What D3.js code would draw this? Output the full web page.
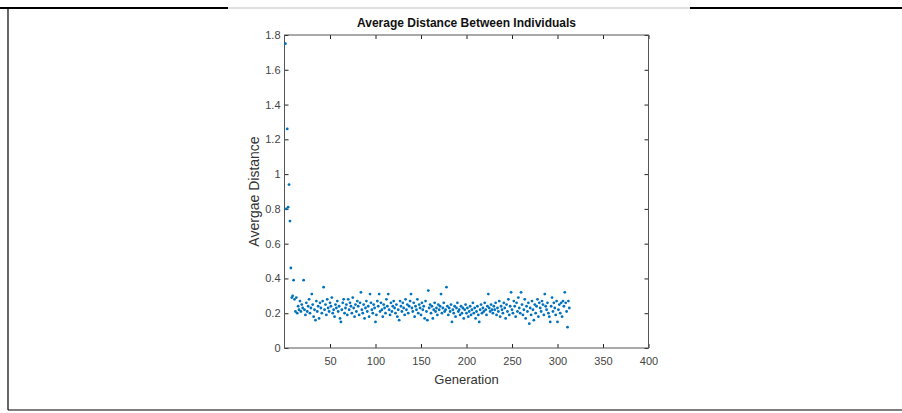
<!DOCTYPE html>
<html lang="en">
  <head>
    <meta charset="utf-8" />
    <title>Average Distance Between Individuals</title>
    <script src="https://cdnjs.cloudflare.com/ajax/libs/d3/7.8.5/d3.min.js"></script>
    <style type="text/css">
      body { margin: 0; background: #fff; }
      svg text { font-family: "Liberation Sans", Arial, sans-serif; }
    </style>
  </head>

  <body>
    <div id="chart"></div>
    <script>
      // average distance per generation (generation = index + 1)
      const avgDistance = [
        1.75, 0.80, 1.26, 0.81, 0.94, 0.73, 0.46, 0.29, 0.30, 0.39,
        0.28, 0.21, 0.29, 0.20, 0.24, 0.22, 0.27, 0.21, 0.25, 0.23,
        0.39, 0.22, 0.19, 0.26, 0.21, 0.24, 0.28, 0.20, 0.23, 0.31,
        0.25, 0.18, 0.22, 0.16, 0.27, 0.21, 0.24, 0.17, 0.26, 0.23,
        0.20, 0.27, 0.35, 0.22, 0.25, 0.19, 0.28, 0.23, 0.21, 0.26,
        0.24, 0.29, 0.20, 0.22, 0.18, 0.25, 0.23, 0.27, 0.21, 0.24,
        0.17, 0.15, 0.22, 0.26, 0.28, 0.20, 0.23, 0.25, 0.19, 0.28,
        0.22, 0.26, 0.24, 0.20, 0.29, 0.23, 0.18, 0.25, 0.21, 0.27,
        0.24, 0.19, 0.26, 0.32, 0.22, 0.20, 0.25, 0.17, 0.23, 0.27,
        0.21, 0.24, 0.18, 0.31, 0.26, 0.22, 0.20, 0.25, 0.23, 0.15,
        0.19, 0.27, 0.24, 0.31, 0.21, 0.26, 0.22, 0.18, 0.25, 0.23,
        0.20, 0.28, 0.24, 0.31, 0.22, 0.19, 0.26, 0.21, 0.24, 0.27,
        0.23, 0.20, 0.25, 0.18, 0.22, 0.16, 0.27, 0.24, 0.21, 0.26,
        0.23, 0.19, 0.28, 0.22, 0.25, 0.20, 0.24, 0.27, 0.31, 0.23,
        0.21, 0.26, 0.18, 0.24, 0.22, 0.28, 0.20, 0.25, 0.23, 0.19,
        0.26, 0.22, 0.24, 0.17, 0.27, 0.21, 0.16, 0.33, 0.23, 0.25,
        0.20, 0.24, 0.17, 0.22, 0.26, 0.21, 0.23, 0.19, 0.25, 0.22,
        0.24, 0.31, 0.20, 0.23, 0.26, 0.21, 0.22, 0.35, 0.24, 0.19,
        0.23, 0.21, 0.25, 0.15, 0.22, 0.20, 0.24, 0.18, 0.23, 0.26,
        0.21, 0.22, 0.19, 0.24, 0.20, 0.23, 0.17, 0.22, 0.25, 0.20,
        0.23, 0.18, 0.21, 0.24, 0.19, 0.22, 0.26, 0.20, 0.23, 0.17,
        0.21, 0.24, 0.19, 0.15, 0.22, 0.25, 0.20, 0.23, 0.21, 0.26,
        0.22, 0.19, 0.24, 0.31, 0.23, 0.21, 0.25, 0.22, 0.20, 0.24,
        0.22, 0.26, 0.19, 0.23, 0.21, 0.27, 0.18, 0.24, 0.22, 0.20,
        0.26, 0.23, 0.17, 0.25, 0.21, 0.28, 0.19, 0.24, 0.32, 0.22,
        0.20, 0.27, 0.24, 0.18, 0.26, 0.21, 0.29, 0.23, 0.20, 0.32,
        0.25, 0.19, 0.22, 0.28, 0.17, 0.24, 0.21, 0.26, 0.14, 0.23,
        0.19, 0.27, 0.22, 0.16, 0.25, 0.20, 0.24, 0.28, 0.18, 0.26,
        0.23, 0.21, 0.27, 0.25, 0.19, 0.31, 0.24, 0.22, 0.26, 0.20,
        0.18, 0.15, 0.24, 0.29, 0.21, 0.26, 0.23, 0.19, 0.27, 0.15,
        0.22, 0.25, 0.20, 0.26, 0.18, 0.27, 0.24, 0.32, 0.26, 0.21,
        0.12, 0.27, 0.23
      ];
      const xTicks = [50, 100, 150, 200, 250, 300, 350, 400];
      const yTicks = [0, 0.2, 0.4, 0.6, 0.8, 1, 1.2, 1.4, 1.6, 1.8];

      const width = 902, height = 413;
      const plot = { left: 284.5, right: 648.5, top: 35, bottom: 348 };
      const axisColor = '#555';
      const tickLen = 4;

      const svg = d3.select('#chart')
        .append('svg')
        .attr('width', width)
        .attr('height', height);

      // page frame lines
      const frame = svg.append('g').attr('fill', 'none');
      frame.append('line').attr('x1', 0).attr('x2', 228).attr('y1', 8).attr('y2', 8)
        .attr('stroke', '#000').attr('stroke-width', 2);
      frame.append('line').attr('x1', 228).attr('x2', 690).attr('y1', 8).attr('y2', 8)
        .attr('stroke', '#999').attr('stroke-width', 0.6);
      frame.append('line').attr('x1', 690).attr('x2', 902).attr('y1', 8).attr('y2', 8)
        .attr('stroke', '#000').attr('stroke-width', 2);
      frame.append('line').attr('x1', 8).attr('x2', 8).attr('y1', 8).attr('y2', 410)
        .attr('stroke', '#000').attr('stroke-width', 1.2);
      frame.append('line').attr('x1', 8).attr('x2', 902).attr('y1', 410).attr('y2', 410)
        .attr('stroke', '#000').attr('stroke-width', 1.2);

      const x = d3.scaleLinear().domain([0, 400]).range([plot.left, plot.right]);
      const y = d3.scaleLinear().domain([0, 1.8]).range([plot.bottom, plot.top]);

      // axes: MATLAB style, inward ticks, box on
      const fmt = d => String(d);
      const styleAxis = g => {
        g.select('.domain').remove();
        g.selectAll('.tick line').attr('stroke', '#222');
        g.selectAll('.tick text')
          .attr('fill', '#444')
          .style('font-size', '11px');
      };

      svg.append('g')
        .attr('transform', `translate(0,${plot.bottom})`)
        .call(d3.axisBottom(x).tickValues(xTicks).tickFormat(fmt)
          .tickSizeInner(-tickLen).tickSizeOuter(0).tickPadding(9))
        .call(styleAxis);

      svg.append('g')
        .attr('transform', `translate(0,${plot.top})`)
        .call(d3.axisTop(x).tickValues(xTicks).tickFormat('')
          .tickSizeInner(-tickLen).tickSizeOuter(0))
        .call(styleAxis);

      svg.append('g')
        .attr('transform', `translate(${plot.left},0)`)
        .call(d3.axisLeft(y).tickValues(yTicks).tickFormat(fmt)
          .tickSizeInner(-tickLen).tickSizeOuter(0).tickPadding(4))
        .call(styleAxis);

      svg.append('g')
        .attr('transform', `translate(${plot.right},0)`)
        .call(d3.axisRight(y).tickValues(yTicks).tickFormat('')
          .tickSizeInner(-tickLen).tickSizeOuter(0))
        .call(styleAxis);

      svg.append('rect')
        .attr('x', plot.left).attr('y', plot.top)
        .attr('width', plot.right - plot.left)
        .attr('height', plot.bottom - plot.top)
        .attr('fill', 'none')
        .attr('stroke', axisColor)
        .attr('stroke-width', 1);

      // points
      svg.append('g')
        .selectAll('circle')
        .data(avgDistance)
        .join('circle')
        .attr('cx', (d, i) => x(i + 1))
        .attr('cy', d => y(d))
        .attr('r', 1.4)
        .attr('fill', '#0072BD');

      // title and labels
      svg.append('text')
        .attr('x', (plot.left + plot.right) / 2)
        .attr('y', 27)
        .attr('text-anchor', 'middle')
        .style('font-size', '12px')
        .style('font-weight', 'bold')
        .attr('fill', '#111')
        .text('Average Distance Between Individuals');

      svg.append('text')
        .attr('x', (plot.left + plot.right) / 2)
        .attr('y', 384)
        .attr('text-anchor', 'middle')
        .style('font-size', '13px')
        .attr('fill', '#333')
        .text('Generation');

      svg.append('text')
        .attr('transform', `translate(259,${(plot.top + plot.bottom) / 2}) rotate(-90)`)
        .attr('text-anchor', 'middle')
        .style('font-size', '14px')
        .attr('fill', '#333')
        .text('Avergae Distance');
    </script>
  </body>
</html>
